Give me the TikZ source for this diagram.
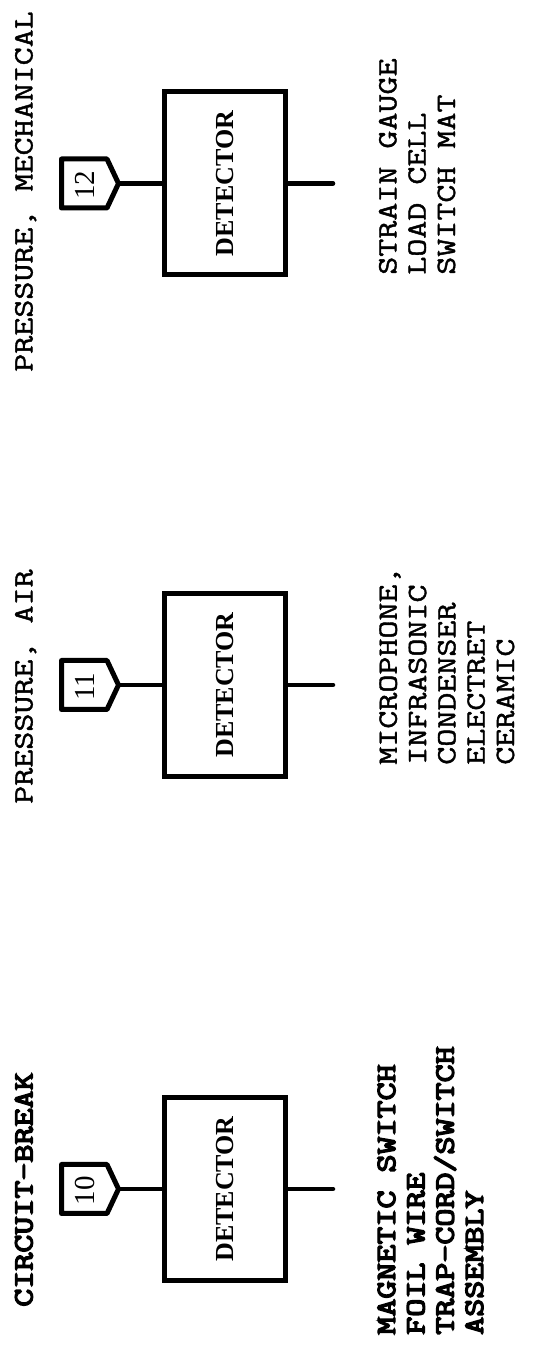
\documentclass[tikz,border=0pt]{standalone}
\usepackage{fontspec}
\setmainfont{Liberation Serif}
\newfontfamily\typew[FakeBold=1.3]{Latin Modern Mono}
\newfontfamily\typewbold[FakeBold=4.5]{Latin Modern Mono}
\begin{document}
\begin{tikzpicture}[x=1pt,y=-1pt,rotate=90,transform shape,
  detbox/.style={draw, line width=5pt, rectangle, minimum width=183pt, minimum height=121pt, inner sep=0pt, font=\bfseries\fontsize{26}{30}\selectfont},
  tagline/.style={line width=5pt, line join=round},
  tagnum/.style={inner sep=0pt, font=\fontsize{29}{30}\selectfont},
  wire/.style={line width=4.5pt},
  outwire/.style={line width=4.5pt, line cap=round},
  title/.style={anchor=base west, inner sep=0pt, xscale=1.25, font=\typew\fontsize{28}{29.3}\selectfont},
  titleb/.style={title, font=\typewbold\fontsize{28}{29.3}\selectfont},
  desc/.style={anchor=base west, inner sep=0pt, align=left, xscale=1.25, font=\typew\fontsize{28}{29.3}\selectfont},
  descb/.style={desc, font=\typewbold\fontsize{28}{29.3}\selectfont}]
\useasboundingbox (0,0) rectangle (1346,559);

% block 10
\node[titleb] (t10) at (39,32.5) {CIRCUIT-BREAK};
\draw[tagline] (132.5,61.5) -- (181.5,61.5) -- (181.5,107) -- (157,118.5) -- (132.5,107) -- cycle;
\coordinate (p10) at (157,118.5);
\node[tagnum] (g10) at (155,85) {10};
\node[detbox] (d10) at (157,225) {DETECTOR};
\coordinate (o10) at (157,333);
\draw[wire] (p10) -- (d10.north);
\draw[outwire] (d10.south) -- (o10);
\node[descb] (s10) at (11,483) {MAGNETIC SWITCH\\FOIL WIRE\\TRAP-CORD/SWITCH\\ASSEMBLY};

% block 11
\node[title] (t11) at (542,32.5) {PRESSURE, AIR};
\draw[tagline] (636.5,61.5) -- (685.5,61.5) -- (685.5,107) -- (661,118.5) -- (636.5,107) -- cycle;
\coordinate (p11) at (661,118.5);
\node[tagnum] (g11) at (659,85) {11};
\node[detbox] (d11) at (661,225) {DETECTOR};
\coordinate (o11) at (661,333);
\draw[wire] (p11) -- (d11.north);
\draw[outwire] (d11.south) -- (o11);
\node[desc] (s11) at (581,514) {MICROPHONE,\\INFRASONIC\\CONDENSER\\ELECTRET\\CERAMIC};

% block 12
\node[title] (t12) at (974,32.5) {PRESSURE, MECHANICAL};
\draw[tagline] (1138,61.5) -- (1187,61.5) -- (1187,107) -- (1162.5,118.5) -- (1138,107) -- cycle;
\coordinate (p12) at (1162.5,118.5);
\node[tagnum] (g12) at (1160.5,85) {12};
\node[detbox] (d12) at (1162.5,225) {DETECTOR};
\coordinate (o12) at (1162.5,333);
\draw[wire] (p12) -- (d12.north);
\draw[outwire] (d12.south) -- (o12);
\node[desc] (s12) at (1071,455) {STRAIN GAUGE\\LOAD CELL\\SWITCH MAT};
\end{tikzpicture}
\end{document}
